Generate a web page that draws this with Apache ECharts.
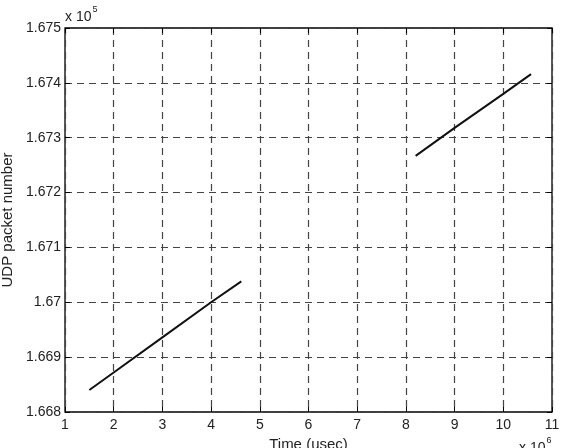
<!DOCTYPE html>
<html>
<head>
<meta charset="utf-8">
<script src="https://cdn.jsdelivr.net/npm/echarts@6/dist/echarts.min.js"></script>
<style>
  html, body { margin: 0; padding: 0; background: #fff; }
  #chart { width: 561px; height: 448px; }
</style>
</head>
<body>
<div id="chart"></div>
<script>
// time in units of 10^6 usec, packet number in units of 10^5
const run1Time = [1.5, 2.0, 3.0, 4.0, 4.62];
const run1Packet = [1.6684, 1.66872, 1.66936, 1.67, 1.67038];
const run2Time = [8.2, 9.0, 10.0, 10.57];
const run2Packet = [1.67267, 1.67318, 1.6738, 1.67416];
const xTicks = [1, 2, 3, 4, 5, 6, 7, 8, 9, 10, 11];
const yTicks = [1.668, 1.669, 1.67, 1.671, 1.672, 1.673, 1.674, 1.675];

const font = 'Liberation Sans, Arial, sans-serif';
const textColor = '#222';
const chart = echarts.init(document.getElementById('chart'));

const pairs = (xs, ys) => xs.map((x, i) => [x, ys[i]]);

const gridLine = {
  show: true,
  lineStyle: { color: '#444', type: [7, 5], width: 1.2 }
};

const option = {
  animation: false,
  grid: {
    left: 65, right: 9, top: 28, bottom: 36,
    outerBoundsMode: 'none', containLabel: false,
    show: true, borderColor: '#000', borderWidth: 1.3
  },
  xAxis: [{
    type: 'value',
    min: xTicks[0], max: xTicks[xTicks.length - 1], interval: 1,
    axisLine: { show: false },
    axisTick: { show: true, inside: true, length: 5, lineStyle: { color: '#000' } },
    axisLabel: { color: textColor, fontFamily: font, fontSize: 14, margin: 6 },
    splitLine: gridLine,
    name: 'Time (usec)', nameLocation: 'middle', nameGap: 23,
    nameTextStyle: { color: textColor, fontFamily: font, fontSize: 15 }
  }, {
    type: 'value', position: 'top',
    min: xTicks[0], max: xTicks[xTicks.length - 1], interval: 1,
    axisLine: { show: false },
    axisTick: { show: true, inside: true, length: 5, lineStyle: { color: '#000' } },
    axisLabel: { show: false }, splitLine: { show: false }
  }],
  yAxis: [{
    type: 'value',
    min: yTicks[0], max: yTicks[yTicks.length - 1], interval: 0.001,
    axisLine: { show: false },
    axisTick: { show: true, inside: true, length: 5, lineStyle: { color: '#000' } },
    axisLabel: {
      color: textColor, fontFamily: font, fontSize: 14, margin: 4,
      formatter: v => String(+v.toFixed(3))
    },
    splitLine: gridLine,
    name: 'UDP packet number', nameLocation: 'middle', nameGap: 48,
    nameTextStyle: { color: textColor, fontFamily: font, fontSize: 15 }
  }, {
    type: 'value', position: 'right',
    min: yTicks[0], max: yTicks[yTicks.length - 1], interval: 0.001,
    axisLine: { show: false },
    axisTick: { show: true, inside: true, length: 5, lineStyle: { color: '#000' } },
    axisLabel: { show: false }, splitLine: { show: false }
  }],
  graphic: [{
    type: 'text', left: 65, top: 5,
    style: {
      text: '{b|x 10}{s|5}',
      rich: {
        b: { fontFamily: font, fontSize: 14, fill: textColor, padding: [7, 0, 0, 0] },
        s: { fontFamily: font, fontSize: 9, fill: textColor, padding: [0, 0, 8, 1] }
      }
    }
  }, {
    type: 'text', left: 519, top: 436,
    style: {
      text: '{b|x 10}{s|6}',
      rich: {
        b: { fontFamily: font, fontSize: 14, fill: textColor, padding: [8, 0, 0, 0] },
        s: { fontFamily: font, fontSize: 9, fill: textColor, padding: [0, 0, 8, 1] }
      }
    }
  }],
  series: [{
    type: 'line', data: pairs(run1Time, run1Packet), showSymbol: false,
    lineStyle: { color: '#111', width: 2 }
  }, {
    type: 'line', data: pairs(run2Time, run2Packet), showSymbol: false,
    lineStyle: { color: '#111', width: 2 }
  }]
};

chart.setOption(option);
</script>
</body>
</html>
